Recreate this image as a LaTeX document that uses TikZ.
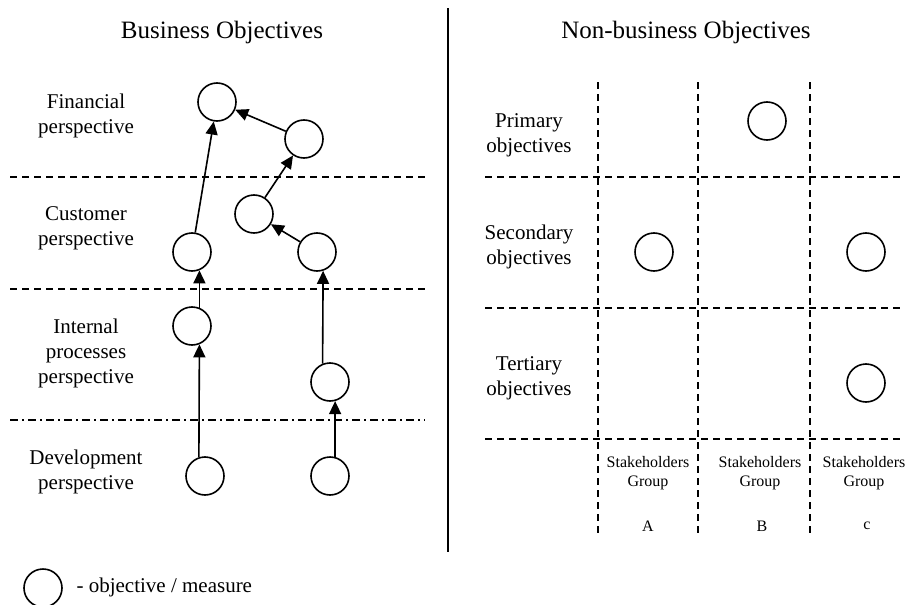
\documentclass[tikz,border=0pt]{standalone}
\usepackage{fontspec}
\setmainfont{Liberation Serif}
\usetikzlibrary{arrows.meta}
\begin{document}
\begin{tikzpicture}[x=1pt,y=-1pt,
        obj/.style={circle,draw,line width=1.6pt,minimum size=38pt,inner sep=0pt},
        lbl/.style={align=center,font=\fontsize{21}{25}\selectfont},
        ttl/.style={font=\fontsize{25}{30}\selectfont},
        grp/.style={align=center,font=\fontsize{16}{19}\selectfont},
        arr/.style={line width=1.6pt,-{Triangle[length=13pt,width=12pt]}},
        sep/.style={line width=1.5pt,dash pattern=on 7pt off 5pt}]
        \useasboundingbox (0,0) rectangle (906,605);
        \node[ttl] (tb) at (222,32) {Business Objectives};
        \node[ttl] (tn) at (686,32) {Non-business Objectives};
        \draw[line width=1.6pt] (448,8) -- (448,552);
        % left part
        \draw[sep] (10,177) -- (425,177);
        \draw[sep] (10,289) -- (425,289);
        \draw[line width=1.5pt,dash pattern=on 8pt off 4pt on 2pt off 4pt] (10,420) -- (425,420);
        \node[lbl] (fin) at (86,116) {Financial\\perspective};
        \node[lbl] (cus) at (86,228) {Customer\\perspective};
        \node[lbl] (int) at (86,353) {Internal\\processes\\perspective};
        \node[lbl] (dev) at (86,472) {Development\\perspective};
        \node[obj] (c1) at (217,102) {};
        \node[obj] (c2) at (304,139) {};
        \node[obj] (c3) at (254,214) {};
        \node[obj] (c4) at (192,252) {};
        \node[obj] (c5) at (317,252) {};
        \node[obj] (c6) at (192,326) {};
        \node[obj] (c7) at (330,382) {};
        \node[obj] (c8) at (205,476) {};
        \node[obj] (c9) at (330,476) {};
        \draw[arr] (c4) -- (c1);
        \draw[arr] (c2) -- (c1);
        \draw[arr] (c3) -- (c2);
        \draw[arr] (c5) -- (c3);
        \draw[arr] (c6.68) -- (c4.292);
        \draw[arr] (c8.108) -- (c6.292);
        \draw[arr] (c7.112) -- (c5.288);
        \draw[arr] (c9.75) -- (c7.285);
        % right part
        \foreach \x in {598,698,810}
          \draw[sep] (\x,82) -- (\x,533);
        \foreach \y in {177,308,439}
          \draw[sep] (485,\y) -- (900,\y);
        \node[lbl] (pri) at (529,135) {Primary\\objectives};
        \node[lbl] (sec) at (529,247) {Secondary\\objectives};
        \node[lbl] (ter) at (529,378) {Tertiary\\objectives};
        \node[obj] (pb) at (767,121) {};
        \node[obj] (sa) at (654,252) {};
        \node[obj] (sc) at (866,252) {};
        \node[obj] (tc) at (866,383) {};
        \node[grp] (ga) at (648,473) {Stakeholders\\Group};
        \node[grp] (gb) at (760,473) {Stakeholders\\Group};
        \node[grp] (gc) at (864,473) {Stakeholders\\Group};
        \node[grp] (la) at (648,526) {A};
        \node[grp] (lb) at (762,526) {B};
        \node[grp] (lc) at (867,526) {c};
        % legend
        \node[obj] (key) at (43,588) {};
        \node[lbl,anchor=west] (keytxt) at (73,587) {- objective / measure};
\end{tikzpicture}
\end{document}
